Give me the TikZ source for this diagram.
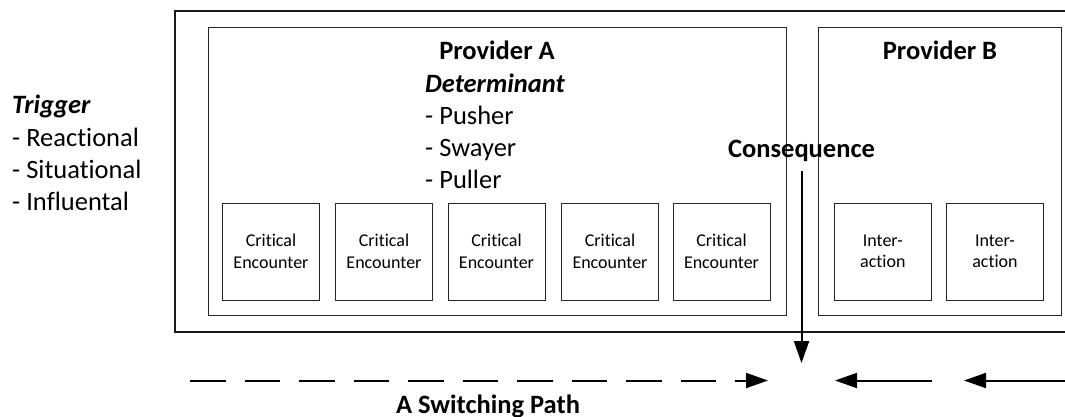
\documentclass[tikz,border=0pt]{standalone}
\usepackage{fontspec}
\setmainfont{Carlito}[Ligatures=NoCommon]
\usetikzlibrary{arrows.meta}

\tikzset{
  big/.style={font=\fontsize{26.5}{32}\selectfont, inner sep=0pt},
  bigbold/.style={big, font=\fontsize{26.5}{32}\selectfont\bfseries},
  frame/.style={draw=black!85, line width=1pt},
  outerframe/.style={draw=black!90, line width=2pt},
  smallbox/.style={draw=black!85, line width=1pt, minimum width=97pt, minimum height=97pt,
    inner sep=0pt, align=center, font=\fontsize{18}{21.5}\selectfont},
  flow/.style={line width=2pt, -{Triangle[length=22pt,width=15pt]}},
}

\begin{document}
\begin{tikzpicture}[x=1pt, y=-1pt]
  \useasboundingbox (0,0) rectangle (1065,416);

  % outer frame, open to the right edge
  \draw[outerframe] (1070,11) -- (175,11) -- (175,332) -- (1070,332);

  % provider frames
  \node[frame, minimum width=578pt, minimum height=288pt, inner sep=0pt] (provA) at (497,171) {};
  \node[frame, minimum width=243pt, minimum height=288pt, inner sep=0pt] (provB) at (939.5,171) {};

  % headings
  \node[bigbold, anchor=base] (ta) at (497,59) {Provider A};
  \node[bigbold, anchor=base] (tb) at (940,59) {Provider B};

  % determinants
  \node[big, anchor=base west] (det) at (425,92) {\bfseries\itshape Determinant};
  \node[big, anchor=base west] (d1) at (425,124) {- Pusher};
  \node[big, anchor=base west] (d2) at (425,156) {- Swayer};
  \node[big, anchor=base west] (d3) at (425,188) {- Puller};

  % triggers
  \node[big, anchor=base west] (trig) at (12,113) {\bfseries\itshape Trigger};
  \node[big, anchor=base west] (t1) at (12,146) {- Reactional};
  \node[big, anchor=base west] (t2) at (12,178) {- Situational};
  \node[big, anchor=base west] (t3) at (12,210) {- Influental};

  % critical encounters of provider A
  \foreach \i/\cx in {1/271, 2/384, 3/496.5, 4/610, 5/721.5}
    \node[smallbox] (ce\i) at (\cx,251.5) {Critical\\Encounter};

  % interactions with provider B
  \node[smallbox] (ia1) at (882.8,251.5) {Inter-\\action};
  \node[smallbox] (ia2) at (995,251.5) {Inter-\\action};

  % consequence
  \node[bigbold, anchor=base] (cons) at (801.5,157) {Consequence};
  \coordinate (consTop) at (801.5,171);
  \coordinate (consTip) at (801.5,363);
  \draw[flow] (consTop) -- (consTip);

  % switching path
  \coordinate (pathStart) at (190,380.5);
  \coordinate (leftTip) at (768,380.5);
  \coordinate (midStart) at (932,380.5);
  \coordinate (midTip) at (835,380.5);
  \coordinate (rightStart) at (1070,380.5);
  \coordinate (rightTip) at (964,380.5);
  \draw[flow, dash pattern=on 35.5pt off 19pt] (pathStart) -- (leftTip);
  \draw[flow] (midStart) -- (midTip);
  \draw[flow] (rightStart) -- (rightTip);

  \node[bigbold, anchor=base] (sp) at (488,413) {A Switching Path};
\end{tikzpicture}
\end{document}
